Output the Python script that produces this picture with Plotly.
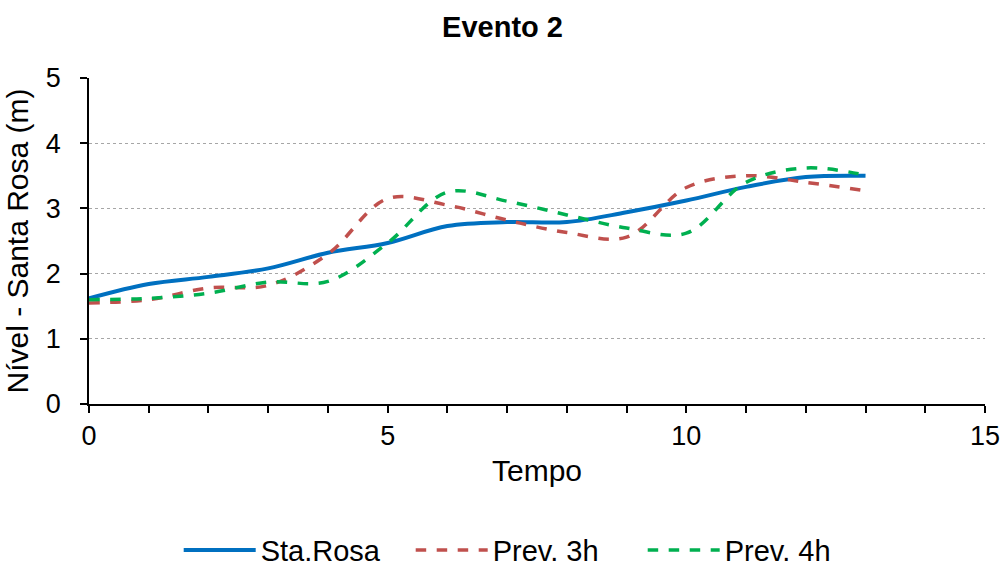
import plotly.graph_objects as go

tempo = list(range(14))
sta_rosa = [1.62, 1.84, 1.95, 2.08, 2.32, 2.47, 2.73, 2.79, 2.79, 2.94, 3.12, 3.33, 3.48, 3.50]
prev_3h = [1.55, 1.60, 1.78, 1.82, 2.30, 3.15, 3.05, 2.82, 2.63, 2.56, 3.32, 3.50, 3.40, 3.27]
prev_4h = [1.60, 1.62, 1.70, 1.87, 1.88, 2.47, 3.25, 3.11, 2.90, 2.70, 2.62, 3.40, 3.62, 3.51]

series = [
    ("Sta.Rosa", sta_rosa, "#0070C0", "solid", 4),
    ("Prev. 3h", prev_3h, "#C0504D", "dash", 3.5),
    ("Prev. 4h", prev_4h, "#00B050", "dash", 3.5),
]

fig = go.Figure()
for name, vals, color, dash, w in series:
    fig.add_trace(go.Scatter(
        x=tempo, y=vals, mode="lines", name=name,
        line=dict(color=color, width=w, dash=dash, shape="spline", smoothing=1),
    ))

font = dict(family="Arial, Liberation Sans, sans-serif", size=27, color="black")

fig.update_layout(
    width=1005, height=567,
    template="plotly_white",
    paper_bgcolor="white", plot_bgcolor="white",
    font=font,
    title=dict(text="<b>Evento 2</b>", x=0.5, xanchor="center", y=1 - 27 / 567, yanchor="middle",
               font=dict(size=29)),
    margin=dict(l=89, r=20, t=78, b=163, autoexpand=False),
    showlegend=True,
    legend=dict(orientation="h", x=0.4885, xanchor="center", y=-0.448, yanchor="middle",
                font=dict(size=29), itemwidth=72, entrywidth=145, traceorder="normal"),
    xaxis=dict(
        range=[0, 15], dtick=5, tick0=0, showgrid=False, zeroline=False,
        showline=True, linecolor="black", linewidth=1.5, automargin=False,
        ticks="outside", ticklen=7, tickcolor="black", tickwidth=1.5,
        minor=dict(dtick=1, ticks="outside", ticklen=7, tickcolor="black", showgrid=False),
        title=dict(text="Tempo", standoff=10, font=dict(size=30)),
    ),
    yaxis=dict(
        range=[0, 5], dtick=1, showgrid=True, gridcolor="#A6A6A6", griddash="dot",
        gridwidth=1.2, zeroline=False, automargin=False,
        showline=True, linecolor="black", linewidth=1.5,
        ticks="outside", ticklen=7, tickcolor="black", tickwidth=1.5, ticklabelstandoff=14,
        title=dict(text="Nível - Santa Rosa (m)", standoff=8, font=dict(size=30)),
    ),
)

fig.write_html("out.html", config={"displayModeBar": False},
               post_script="document.body.style.margin='0';")
